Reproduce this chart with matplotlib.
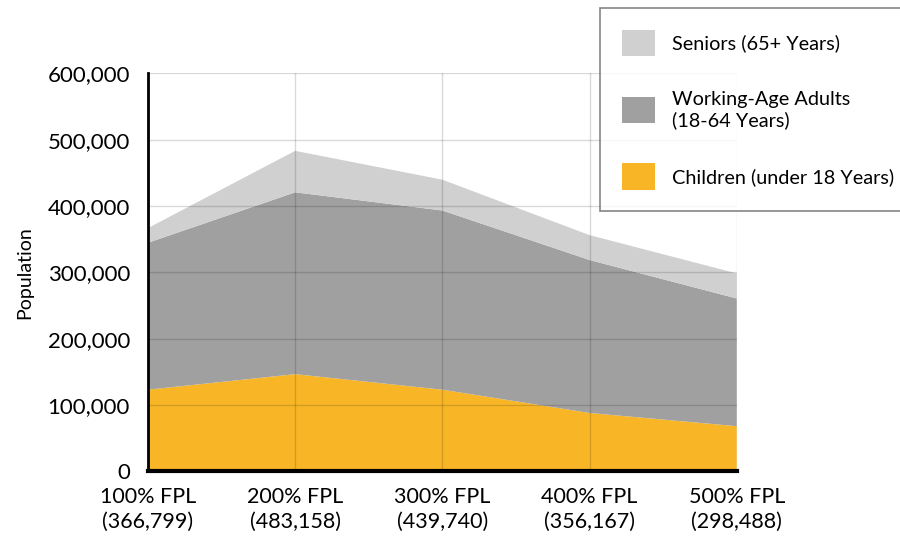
import matplotlib
matplotlib.use("Agg")
import matplotlib.pyplot as plt
from matplotlib.patches import Patch

plt.rcParams['font.family'] = ['Lato', 'DejaVu Sans']

# data
fpl = [100, 200, 300, 400, 500]
totals = ['366,799', '483,158', '439,740', '356,167', '298,488']
children = [123300, 146700, 123300, 88200, 68300]
adults = [221400, 274000, 270000, 230500, 192400]
seniors = [22100, 62500, 46400, 37500, 37800]

labels = ['Children (under 18 Years)', 'Working-Age Adults\n(18-64 Years)', 'Seniors (65+ Years)']
colors = ['#F8B627', '#A0A0A0', '#D0D0D0']

fig = plt.figure(figsize=(9, 5.48), dpi=100)
ax = fig.add_axes([0.1644, 0.1396, 0.8186 - 0.1644, 0.8662 - 0.1396])

ax.stackplot(fpl, children, adults, seniors, colors=colors, linewidth=0, zorder=1)

ax.set_xlim(100, 500)
ax.set_ylim(0, 600000)
ax.set_xticks(fpl)
ax.set_xticklabels(['%d%% FPL\n(%s)' % (f, t) for f, t in zip(fpl, totals)],
                   fontsize=15.5, linespacing=1.3)
ax.set_yticks(range(0, 600001, 100000))
ax.set_yticklabels(['{:,}'.format(v) for v in range(0, 600001, 100000)], fontsize=16)
ax.tick_params(axis='both', length=0)
ax.tick_params(axis='y', pad=13)
ax.tick_params(axis='x', pad=11)

# grid drawn on top of the areas
ax.set_axisbelow(False)
ax.grid(True, color='black', alpha=0.15, linewidth=1)

for side in ['top', 'right']:
    ax.spines[side].set_visible(False)
ax.spines['left'].set_linewidth(2)
ax.spines['bottom'].set_linewidth(3)

ax.set_ylabel('Population', fontsize=14, labelpad=10)

# legend, listed top to bottom as in the reference
handles = [Patch(facecolor=c, edgecolor='none') for c in colors[::-1]]
leg = fig.legend(handles, labels[::-1], loc='upper left',
                 bbox_to_anchor=(600 / 900, 1 - 8 / 548),
                 fontsize=14.3, frameon=True, fancybox=False,
                 handlelength=1.65, handleheight=1.65, handletextpad=0.9,
                 labelspacing=1.75, borderpad=1.1, borderaxespad=0)
leg.get_frame().set_edgecolor('#666666')
leg.get_frame().set_linewidth(1.2)

fig.savefig('out.png', dpi=100)
